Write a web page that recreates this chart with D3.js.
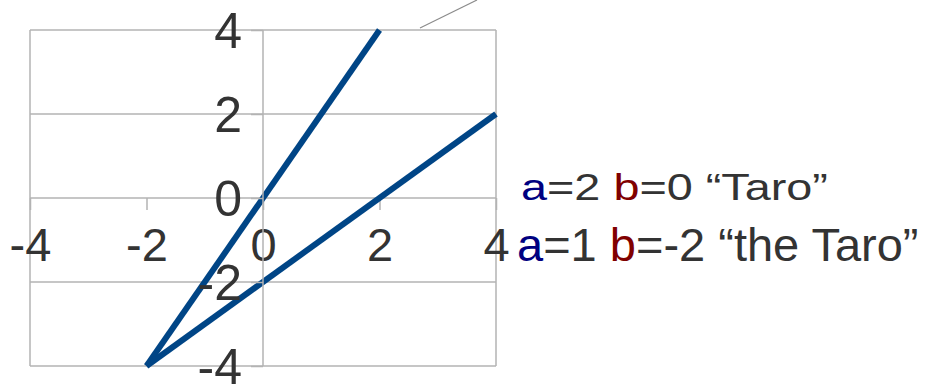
<!DOCTYPE html>
<html lang="en">
<head>
    <meta charset="UTF-8">
    <title>Lines y = a x + b</title>
    <script src="https://d3js.org/d3.v7.min.js"></script>
    <style>
        body {
            margin: 0;
            background: #fff;
            font-family: "Liberation Sans", Arial, sans-serif;
        }
        svg { display: block; }
    </style>
</head>
<body>
    <div id="chart"></div>
    <script>
        // tick values for both axes
        const xTicks = [-4, -2, 0, 2, 4];
        const yTicks = [-4, -2, 0, 2, 4];

        // series: endpoints
        const seriesNames = ["\u201cTaro\u201d", "\u201cthe Taro\u201d"];
        const seriesA = [2, 1];
        const seriesB = [0, -2];
        const taroX = [-2, 2];
        const taroY = [-4, 4];
        const theTaroX = [-2, 4];
        const theTaroY = [-4, 2];

        const width = 927, height = 384;
        const plot = {left: 30, right: 496, top: 30, bottom: 366};
        const gridColor = '#b3b3b3';
        const textColor = '#333333';
        const lineColor = '#004586';
        const font = '"Liberation Sans", Arial, sans-serif';

        const svg = d3.select('#chart')
            .append('svg')
            .attr('width', width)
            .attr('height', height);

        const x = d3.scaleLinear().domain([-4, 4]).range([plot.left, plot.right]);
        const y = d3.scaleLinear().domain([-4, 4]).range([plot.bottom, plot.top]);

        // horizontal grid lines
        svg.append('g')
            .selectAll('line')
            .data(yTicks)
            .enter().append('line')
            .attr('x1', plot.left)
            .attr('x2', plot.right)
            .attr('y1', d => y(d))
            .attr('y2', d => y(d))
            .attr('stroke', gridColor)
            .attr('stroke-width', 1.5);

        // left and right border
        svg.append('g')
            .selectAll('line')
            .data([-4, 4])
            .enter().append('line')
            .attr('x1', d => x(d))
            .attr('x2', d => x(d))
            .attr('y1', plot.top)
            .attr('y2', plot.bottom)
            .attr('stroke', gridColor)
            .attr('stroke-width', 1.5);

        // x axis through y = 0
        const xAxis = d3.axisBottom(x)
            .tickValues(xTicks)
            .tickSize(12)
            .tickFormat(d => String(d));
        const gx = svg.append('g')
            .attr('transform', `translate(0,${y(0)})`)
            .call(xAxis);
        gx.select('.domain').remove();
        gx.selectAll('.tick line').attr('stroke', gridColor).attr('stroke-width', 1.5);
        gx.selectAll('.tick text')
            .attr('fill', textColor)
            .attr('font-family', font)
            .attr('font-size', 47)
            .attr('y', 0)
            .attr('dy', null)
            .attr('transform', 'translate(0,63)');

        // y axis through x = 0
        const yAxis = d3.axisLeft(y)
            .tickValues(yTicks)
            .tickSize(12)
            .tickFormat(d => String(d));
        const gy = svg.append('g')
            .attr('transform', `translate(${x(0)},0)`)
            .call(yAxis);
        gy.select('.domain')
            .attr('d', `M0,${plot.top}V${plot.bottom}`)
            .attr('stroke', gridColor)
            .attr('stroke-width', 1.5);
        gy.selectAll('.tick line').attr('stroke', gridColor).attr('stroke-width', 1.5);

        // series lines
        const lineGen = d3.line().x(d => x(d[0])).y(d => y(d[1]));
        const seriesPts = [
            d3.zip(taroX, taroY),
            d3.zip(theTaroX, theTaroY)
        ];
        svg.append('g')
            .selectAll('path')
            .data(seriesPts)
            .enter().append('path')
            .attr('d', lineGen)
            .attr('fill', 'none')
            .attr('stroke', lineColor)
            .attr('stroke-width', 6);

        // y labels drawn after lines
        gy.raise();
        gy.selectAll('.tick text')
            .attr('fill', textColor)
            .attr('font-family', font)
            .attr('font-size', 50)
            .attr('x', -21)
            .attr('dy', '0.35em');

        // leader line at the top
        svg.append('line')
            .attr('x1', 420).attr('y1', 28)
            .attr('x2', 477).attr('y2', 0)
            .attr('stroke', '#8c8c8c')
            .attr('stroke-width', 1.2);

        // legend: first entry is stretched wide in the source, second is plain
        const legend = svg.append('g')
            .attr('font-family', font)
            .attr('fill', textColor);
        const legendX = [521, 517];
        const legendY = [200, 261];
        const legendSize = [37, 47];
        const legendStretch = [1.265, 1];
        seriesNames.forEach((name, i) => {
            const t = legend.append('text')
                .attr('font-size', legendSize[i])
                .attr('transform', `translate(${legendX[i]},${legendY[i]}) scale(${legendStretch[i]},1)`);
            t.append('tspan').attr('fill', '#000080').text('a');
            t.append('tspan').text('=' + seriesA[i] + ' ');
            t.append('tspan').attr('fill', '#800000').text('b');
            t.append('tspan').text('=' + seriesB[i] + ' ' + name);
        });
    </script>
</body>
</html>
